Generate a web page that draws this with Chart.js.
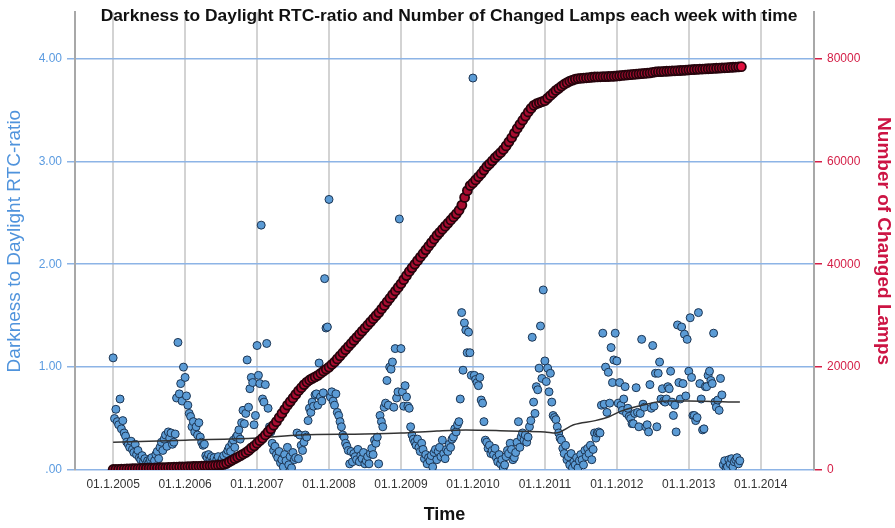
<!DOCTYPE html>
<html>
<head>
<meta charset="utf-8">
<script src="https://cdn.jsdelivr.net/npm/chart.js@4"></script>
<style>
  html, body { margin: 0; padding: 0; background: #fff; }
  #wrap { width: 895px; height: 528px; position: relative; }
</style>
</head>
<body>
<div id="wrap"><canvas id="myChart"></canvas></div>
<script>
// Weekly darkness/daylight RTC-ratio, one array per year (week 0 = first week of January)
const ratio2005 = [1.09,0.50,0.59,0.47,0.44,0.69,0.40,0.48,0.36,0.33,0.27,0.25,0.22,0.28,0.20,0.17,0.25,0.15,0.19,0.12,0.10,0.14,0.08,0.11,0.06,0.09,0.07,0.10,0.12,0.05,0.09,0.15,0.18,0.11,0.22,0.27,0.19,0.30,0.34,0.23,0.37,0.31,0.36,0.25,0.27,0.35,0.70,1.24,0.74,0.84,0.67,1.00];
const ratio2006 = [0.90,0.72,0.63,0.55,0.52,0.42,0.47,0.37,0.42,0.34,0.46,0.32,0.27,0.24,0.25,0.14,0.12,0.15,0.10,0.13,0.08,0.12,0.06,0.10,0.13,0.02,0.08,0.11,0.14,0.05,0.16,0.19,0.22,0.18,0.26,0.29,0.22,0.32,0.34,0.39,0.30,0.46,0.58,0.45,0.55,1.07,0.61,0.79,0.90,0.85,0.44,0.53];
const ratio2007 = [1.21,0.92,0.84,2.38,0.69,0.66,0.83,1.23,0.60,0.42,0.37,0.26,0.19,0.23,0.15,0.12,0.18,0.07,0.10,0.03,0.15,0.09,0.22,0.05,0.13,0.02,0.17,0.10,0.12,0.36,0.11,0.34,0.24,0.19,0.27,0.34,0.32,0.48,0.60,0.56,0.66,0.62,0.73,0.74,0.63,1.04,0.71,0.67,0.75,1.86,1.38,1.39];
const ratio2008 = [2.63,0.71,0.76,0.67,0.63,0.74,0.56,0.53,0.47,0.42,0.34,0.32,0.26,0.23,0.19,0.06,0.18,0.08,0.16,0.13,0.10,0.20,0.08,0.14,0.11,0.17,0.06,0.09,0.13,0.06,0.16,0.21,0.15,0.29,0.26,0.32,0.06,0.53,0.47,0.42,0.61,0.65,0.87,0.63,1.00,0.98,1.05,0.61,1.18,0.70,0.76,2.44];
const ratio2009 = [1.18,0.76,0.62,0.82,0.71,0.62,0.60,0.42,0.34,0.30,0.27,0.24,0.30,0.22,0.18,0.26,0.20,0.11,0.15,0.06,0.12,0.09,0.14,0.03,0.17,0.20,0.10,0.18,0.22,0.13,0.29,0.16,0.11,0.20,0.18,0.25,0.22,0.30,0.32,0.40,0.37,0.44,0.47,0.69,1.53,0.97,1.43,1.36,1.14,1.34,1.14,0.92];
const ratio2010 = [3.81,0.92,0.88,0.85,0.82,0.90,0.68,0.65,0.47,0.29,0.27,0.21,0.24,0.16,0.19,0.15,0.21,0.12,0.08,0.15,0.06,0.10,0.02,0.05,0.13,0.19,0.16,0.26,0.20,0.10,0.12,0.17,0.27,0.47,0.22,0.32,0.36,0.29,0.34,0.27,0.32,0.42,0.48,1.29,0.66,0.55,0.81,0.78,0.99,1.40,0.89,1.75];
const ratio2011 = [1.06,0.86,0.99,0.76,0.94,0.66,0.53,0.51,0.49,0.42,0.36,0.31,0.29,0.21,0.16,0.24,0.10,0.13,0.05,0.16,0.02,0.08,0.05,0.12,0.02,0.09,0.15,0.10,0.05,0.19,0.13,0.21,0.16,0.24,0.10,0.20,0.36,0.31,0.36,0.37,0.36,0.63,1.33,0.64,1.00,0.56,0.95,0.65,1.19,0.85,1.07,1.33];
const ratio2012 = [1.06,0.65,0.85,0.63,0.58,0.69,0.81,0.55,0.60,0.52,0.50,0.45,0.45,0.55,0.80,0.56,0.42,0.55,1.27,0.64,0.61,0.42,0.44,0.37,0.83,0.60,1.21,0.62,0.94,0.42,0.94,1.05,0.69,0.79,0.67,0.66,0.69,0.81,0.79,0.96,0.66,0.53,0.63,0.37,1.41,0.85,0.69,1.39,0.84,1.32,0.72,1.27];
const ratio2013 = [0.96,1.48,0.90,0.53,0.53,0.48,0.51,1.53,0.84,0.69,0.39,0.40,0.81,0.81,0.92,0.96,0.87,0.84,1.33,0.66,0.61,0.68,0.58,0.89,0.73,0.05,0.09,0.02,0.03,0.10,0.06,0.11,0.03,0.08,0.10,0.12,0.06,0.09];

// Cumulative number of changed lamps, read every second week
const lamps2005 = [100,120,140,160,180,200,220,240,260,280,300,320,340,360,380,400,420,440,460,480,500,520,540,560,580,600];
const lamps2006 = [620,640,660,680,700,720,740,760,790,820,850,880,940,1000,1100,1300,1600,1900,2200,2500,2800,3100,3400,3800,4300,4700];
const lamps2007 = [5200,5700,6200,6800,7400,8000,8700,9400,10200,11000,11800,12600,13300,14000,14700,15400,16000,16600,17100,17500,17800,18100,18400,18800,19200,19600];
const lamps2008 = [20000,20500,21000,21600,22200,22800,23400,24000,24600,25200,25800,26400,27000,27600,28200,28800,29400,30000,30600,31300,32000,32700,33400,34100,34800,35500];
const lamps2009 = [36200,37000,37800,38600,39300,40000,40700,41400,42100,42800,43500,44200,44900,45600,46200,46800,47400,48000,48600,49200,49800,50500,51500,53000,54300,55300];
const lamps2010 = [55800,56400,57000,57600,58300,59000,59500,60100,60700,61200,61700,62300,63000,63800,64600,65500,66400,67200,68000,68800,69600,70300,70900,71200,71400,71600];
const lamps2011 = [71800,72300,72800,73300,73800,74200,74600,75000,75300,75600,75800,76000,76100,76150,76200,76250,76300,76350,76400,76420,76440,76460,76480,76500,76520,76550];
const lamps2012 = [76600,76650,76700,76750,76800,76850,76900,76950,77000,77050,77100,77150,77200,77300,77400,77430,77460,77490,77520,77550,77580,77610,77640,77670,77700,77750];
const lamps2013 = [77800,77830,77860,77890,77920,77950,77980,78010,78040,78070,78100,78130,78160,78190,78220,78260,78300,78340,78380,78400];

// Smoothed fit line over the ratio
const trendYears  = [2005.0, 2006.0, 2007.0, 2007.6, 2008.5, 2009.0, 2009.5, 2009.9, 2010.5, 2011.0, 2011.15, 2011.4, 2011.7, 2011.9, 2012.05, 2012.35, 2012.7, 2013.0, 2013.71];
const trendValues = [0.27, 0.29, 0.31, 0.34, 0.35, 0.36, 0.38, 0.39, 0.38, 0.37, 0.36, 0.44, 0.48, 0.52, 0.57, 0.63, 0.67, 0.67, 0.66];

// Axis ticks
const tickYears = [2005, 2006, 2007, 2008, 2009, 2010, 2011, 2012, 2013, 2014];
const ratioTicks = [0, 1, 2, 3, 4];
const lampTicks = [0, 20000, 40000, 60000, 80000];

const years = [2005, 2006, 2007, 2008, 2009, 2010, 2011, 2012, 2013];
const ratioByYear = [ratio2005, ratio2006, ratio2007, ratio2008, ratio2009, ratio2010, ratio2011, ratio2012, ratio2013];
const lampsByYear = [lamps2005, lamps2006, lamps2007, lamps2008, lamps2009, lamps2010, lamps2011, lamps2012, lamps2013];

const ratioPoints = [];
const lampPoints = [];
years.forEach((yr, k) => {
    ratioByYear[k].forEach((v, i) => ratioPoints.push({ x: yr + i * 7 / 365.25, y: v }));
    lampsByYear[k].forEach((v, i) => lampPoints.push({ x: yr + i / 26, y: v }));
});
const trendPoints = trendYears.map((x, i) => ({ x: x, y: trendValues[i] }));

const chartTitle = 'Darkness to Daylight RTC-ratio and Number of Changed Lamps each week with time';

// Title sits over the top of the plot area, so draw it by hand
const topTitle = {
    id: 'topTitle',
    afterDraw(chart) {
        const c = chart.ctx;
        c.save();
        c.font = 'bold 17.4px "Liberation Sans", Arial, sans-serif';
        c.fillStyle = '#111';
        c.textAlign = 'center';
        c.textBaseline = 'alphabetic';
        c.fillText(chartTitle, 449, 21);
        c.restore();
    }
};

Chart.defaults.font.family = '"Liberation Sans", Arial, sans-serif';

const ctx = document.getElementById('myChart').getContext('2d');
const myChart = new Chart(ctx, {
    type: 'scatter',
    data: {
        datasets: [{
            type: 'scatter',
            label: 'Number of Changed Lamps',
            data: lampPoints,
            yAxisID: 'y1',
            // the overlapping dots read as dark maroon, the last one shows its full red
            backgroundColor: c => c.dataIndex === lampPoints.length - 1 ? '#e0103e' : '#a80c30',
            borderColor: '#26040c',
            borderWidth: 1.8,
            pointRadius: 4.5,
            order: 1,
        }, {
            type: 'line',
            label: 'Fit',
            data: trendPoints,
            yAxisID: 'y',
            borderColor: '#333',
            borderWidth: 1.5,
            pointRadius: 0,
            fill: false,
            cubicInterpolationMode: 'monotone',
            order: 2,
        }, {
            type: 'scatter',
            label: 'Darkness to Daylight RTC-ratio',
            data: ratioPoints,
            yAxisID: 'y',
            backgroundColor: '#5b9bd5',
            borderColor: '#1c3553',
            borderWidth: 1,
            pointRadius: 4,
            order: 3,
        }],
    },
    options: {
        responsive: true,
        maintainAspectRatio: false,
        animation: false,
        layout: { padding: { top: 10, left: 0, right: 0, bottom: 0 } },
        plugins: {
            legend: { display: false },
            tooltip: { enabled: false },
        },
        scales: {
            x: {
                type: 'linear',
                position: 'bottom',
                min: 2004.47,
                max: 2014.74,
                afterBuildTicks: s => { s.ticks = tickYears.map(v => ({ value: v })); },
                afterFit: s => { s.height = 58; },
                grid: { color: '#d3d3d3', lineWidth: 2, drawTicks: false },
                border: { display: false },
                ticks: {
                    color: '#333',
                    font: { size: 12 },
                    padding: 7,
                    maxRotation: 0,
                    autoSkip: false,
                    callback: v => '01.1.' + v,
                },
                title: {
                    display: true,
                    text: 'Time',
                    color: '#111',
                    font: { size: 18, weight: 'bold' },
                    padding: { top: 0, bottom: 2 },
                },
            },
            y: {
                position: 'left',
                min: 0,
                max: 4.45,
                afterBuildTicks: s => { s.ticks = ratioTicks.map(v => ({ value: v })); },
                afterFit: s => { s.width = 75; },
                grid: { color: '#8db4e6', lineWidth: 1.5, tickLength: 8 },
                border: { display: true, color: '#a8a8a8', width: 2 },
                ticks: {
                    color: '#5b9be0',
                    font: { size: 12 },
                    padding: 5,
                    callback: v => v === 0 ? '.00' : v.toFixed(2),
                },
                title: {
                    display: true,
                    text: 'Darkness to Daylight RTC-ratio',
                    color: '#4f93dc',
                    font: { size: 19 },
                    padding: { top: 3, bottom: 0 },
                },
            },
            y1: {
                position: 'right',
                min: 0,
                max: 89000,
                afterBuildTicks: s => { s.ticks = lampTicks.map(v => ({ value: v })); },
                afterFit: s => { s.width = 81; },
                grid: { drawOnChartArea: false, color: '#d41e46', lineWidth: 1.5, tickLength: 8 },
                border: { display: true, color: '#a8a8a8', width: 2 },
                ticks: {
                    color: '#d41e46',
                    font: { size: 12 },
                    padding: 5,
                    callback: v => String(v),
                },
                title: {
                    display: true,
                    text: 'Number of Changed Lamps',
                    color: '#cc1443',
                    font: { size: 19, weight: 'bold' },
                    padding: { top: 0, bottom: 0 },
                },
            },
        },
    },
    plugins: [topTitle],
});
</script>
</body>
</html>
